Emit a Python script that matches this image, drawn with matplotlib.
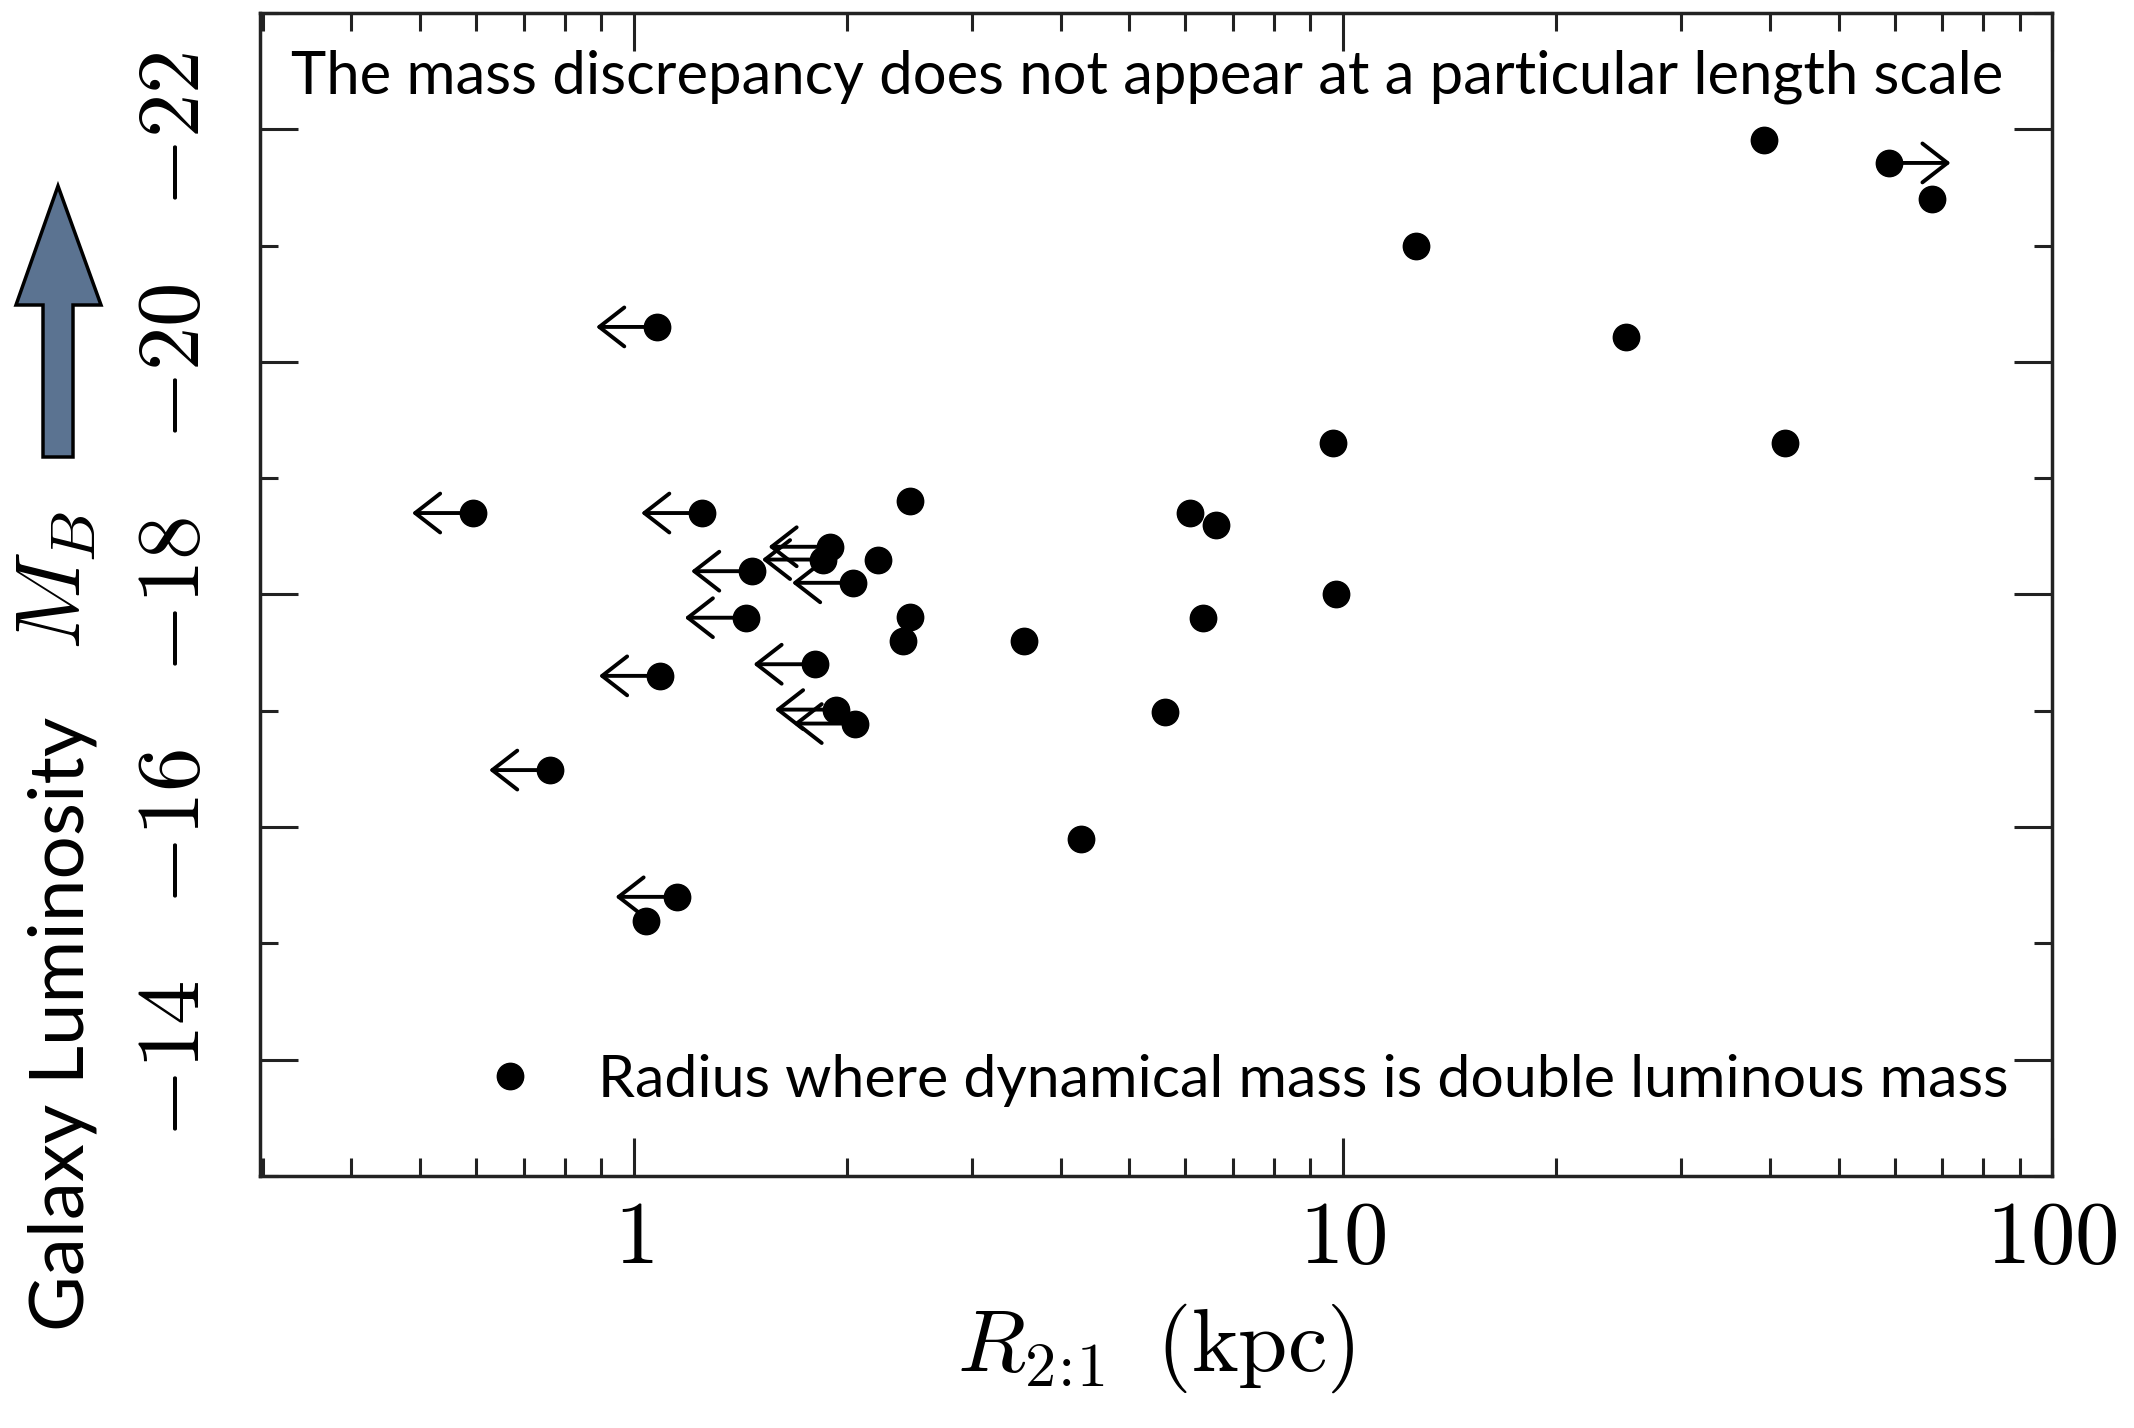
import matplotlib
matplotlib.use("Agg")
import matplotlib.pyplot as plt
import numpy as np
from matplotlib.ticker import FixedLocator, LogLocator, MultipleLocator, FuncFormatter, NullFormatter
from matplotlib.transforms import offset_copy
from matplotlib.lines import Line2D
from matplotlib.patches import Polygon

plt.rcParams['mathtext.fontset'] = 'cm'
plt.rcParams['font.family'] = ['Lato', 'DejaVu Sans']

# ---- data (R_2:1 in kpc, M_B in mag) ----
R_kpc = [1.08, 0.594, 1.25, 1.47, 1.44, 1.09, 1.89, 1.85, 2.21, 2.04,
         2.45, 2.45, 2.40, 3.55, 1.80, 1.93, 2.05, 0.763, 1.15, 1.04,
         6.09, 6.63, 6.36, 5.62, 4.28, 9.70, 9.78, 12.7, 25.1, 39.2,
         42.0, 59.0, 67.7]
M_B = [-20.30, -18.70, -18.70, -18.20, -17.80, -17.30, -18.41, -18.30, -18.30, -18.10,
       -18.80, -17.81, -17.60, -17.60, -17.40, -17.01, -16.89, -16.49, -15.40, -15.19,
       -18.70, -18.60, -17.80, -16.99, -15.90, -19.30, -18.00, -21.00, -20.21, -21.91,
       -19.30, -21.71, -21.40]
# limit flag: -1 = upper limit (arrow left), +1 = lower limit (arrow right), 0 = none
limit_dir = [-1, -1, -1, -1, -1, -1, -1, -1, 0, -1,
             0, 0, 0, 0, -1, -1, -1, -1, -1, 0,
             0, 0, 0, 0, 0, 0, 0, 0, 0, 0,
             0, 1, 0]

x_major = [1, 10, 100]
y_major = [-22, -20, -18, -16, -14]

title_text = "The mass discrepancy does not appear at a particular length scale"
legend_text = "Radius where dynamical mass is double luminous mass"

W, H = 2134, 1428
fig = plt.figure(figsize=(W / 100, H / 100), dpi=100)
ax = fig.add_axes([259.6 / W, 1 - 1176 / H, (2052 - 259.6) / W, (1176 - 12.9) / H])

ax.set_xscale('log')
ax.set_xlim(0.297, 100)
ax.set_ylim(-13, -23)

# arrows for limits
for x, y, d in zip(R_kpc, M_B, limit_dir):
    if d == 0:
        continue
    tr = offset_copy(ax.transData, fig=fig, x=44 * d, y=0, units='points')
    ax.annotate('', xy=(x, y), xycoords=tr, xytext=(x, y), textcoords='data',
                arrowprops=dict(arrowstyle='->,head_length=1.8,head_width=1.4',
                                lw=2.8, color='black', shrinkA=0, shrinkB=0,
                                mutation_scale=10),
                zorder=2)

ax.plot(R_kpc, M_B, 'o', color='black', ms=19, zorder=3, linestyle='none')

# ticks
ax.xaxis.set_major_locator(FixedLocator(x_major))
ax.xaxis.set_minor_locator(LogLocator(base=10, subs=np.arange(2, 10)))
ax.xaxis.set_major_formatter(FuncFormatter(lambda v, p: r'$%g$' % v))
ax.xaxis.set_minor_formatter(NullFormatter())
ax.yaxis.set_major_locator(FixedLocator(y_major))
ax.yaxis.set_minor_locator(MultipleLocator(1))
ax.yaxis.set_major_formatter(FuncFormatter(lambda v, p: r'$%d$' % v))

ax.tick_params(which='both', direction='in', top=True, right=True, width=2.2, color='#222222')
ax.tick_params(which='major', length=27.5)
ax.tick_params(which='minor', length=13)
ax.tick_params(axis='x', which='major', labelsize=64, pad=15)
ax.tick_params(axis='y', which='major', labelsize=64, pad=32, labelrotation=90)
for lbl in ax.get_yticklabels():
    lbl.set_va('center')
for s in ax.spines.values():
    s.set_linewidth(2.5)
    s.set_color('#222222')

# axis labels
ax.set_xlabel(r'$R_{2\!:\!1}\;\;(\mathrm{kpc})$', fontsize=64)
ax.xaxis.set_label_coords(0.50, -0.108)
ax.set_ylabel(r'$M_B$', fontsize=66)
ax.yaxis.label.set_va('center')
ax.yaxis.set_label_coords(-0.1135, 0.512)

# annotation texts
ax.text(0.495, 0.9304, title_text, transform=ax.transAxes, ha='center', va='baseline',
        fontsize=43, color='black')

h = Line2D([], [], marker='o', color='black', ms=19, linestyle='none')
ax.legend([h], [legend_text], loc='center right', bbox_to_anchor=(0.976, 0.082),
          frameon=False, fontsize=42.5, handlelength=1.0, handletextpad=1.0,
          borderpad=0, borderaxespad=0)

# outer "Galaxy Luminosity" label with arrow
fig.text(62 / W, 1 - 1024 / H, "Galaxy Luminosity", rotation=90, ha='center', va='center',
         fontsize=55, color='black')
arrow_px = [(58, 186), (101, 305), (73, 305), (73, 457), (43, 457), (43, 305), (16, 305)]
poly = Polygon([(px / W, 1 - py / H) for px, py in arrow_px], closed=True,
               transform=fig.transFigure, facecolor='#5b7391', edgecolor='black', lw=2.5)
fig.patches.append(poly)

fig.savefig('out.png', dpi=100)
